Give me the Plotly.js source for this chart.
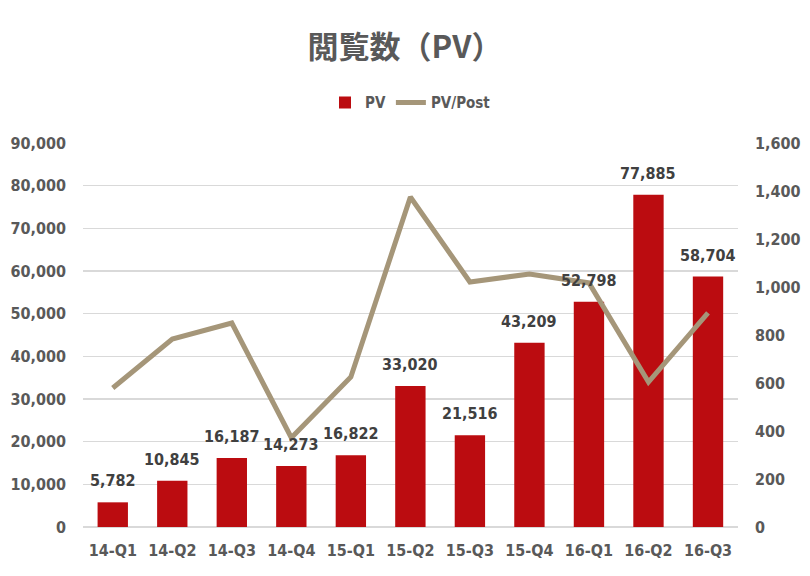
<!DOCTYPE html>
<html>
<head>
<meta charset="utf-8">
<script src="https://cdn.plot.ly/plotly-3.0.1.min.js"></script>
<style>html,body{margin:0;padding:0;background:#fff;}#chart{width:810px;height:576px;}</style>
</head>
<body>
<div id="chart"></div>
<script>
const categories = ['14-Q1','14-Q2','14-Q3','14-Q4','15-Q1','15-Q2','15-Q3','15-Q4','16-Q1','16-Q2','16-Q3'];
const pvValues = [5782, 10845, 16187, 14273, 16822, 33020, 21516, 43209, 52798, 77885, 58704];
const pvPerPost = [579, 783, 850, 372, 625, 1375, 1021, 1054, 1017, 604, 892];

const narrow = '"Liberation Sans Narrow", "DejaVu Sans Condensed", sans-serif';
const grey = '#595959';

const traces = [
  {
    type: 'bar', name: 'PV', x: categories, y: pvValues,
    marker: {color: '#bb0c10', line: {width: 0}},
    yaxis: 'y'
  },
  {
    type: 'scatter', mode: 'lines', name: 'PV/Post', x: categories, y: pvPerPost,
    line: {color: '#a59679', width: 5},
    yaxis: 'y2'
  }
];

const labelAnnotations = categories.map((c, i) => ({
  x: c, y: pvValues[i], xref: 'x', yref: 'y',
  text: pvValues[i].toLocaleString('en-US'),
  showarrow: false, yanchor: 'bottom', xanchor: 'center', yshift: 10,
  font: {family: narrow, size: 16, color: '#404040', weight: 700}
}));

const layout = {
  width: 810, height: 576,
  margin: {l: 83, r: 72, t: 143, b: 49},
  paper_bgcolor: '#ffffff', plot_bgcolor: '#ffffff',
  title: {text: '閲覧数（PV）', x: 0.5, xanchor: 'center', y: 0.918, yanchor: 'middle',
    font: {family: '"Noto Sans CJK JP", sans-serif', size: 31, color: grey, weight: 700}},
  showlegend: true,
  legend: {orientation: 'h', x: 0.5, xanchor: 'center', y: 1.105, yanchor: 'middle',
    font: {family: narrow, size: 15, color: grey, weight: 700}, traceorder: 'normal'},
  bargap: 0.49,
  annotations: labelAnnotations,
  xaxis: {type: 'category', showgrid: false, showline: false, ticks: '', ticklabelstandoff: 12,
    tickfont: {family: narrow, size: 16, color: grey, weight: 700}},
  yaxis: {range: [0, 90000], dtick: 10000, tickformat: ',', showgrid: true,
    gridcolor: '#d9d9d9', gridwidth: 1.5, zeroline: true, zerolinecolor: '#d9d9d9', zerolinewidth: 2,
    ticks: '', ticklen: 0, ticklabelstandoff: 16,
    tickfont: {family: narrow, size: 16, color: grey, weight: 700}},
  yaxis2: {range: [0, 1600], dtick: 200, tickformat: ',', overlaying: 'y', side: 'right',
    showgrid: false, zeroline: false, ticks: '', ticklabelstandoff: 16,
    tickfont: {family: narrow, size: 16, color: grey, weight: 700}}
};

Plotly.newPlot('chart', traces, layout, {displayModeBar: false, staticPlot: true});
</script>
</body>
</html>
